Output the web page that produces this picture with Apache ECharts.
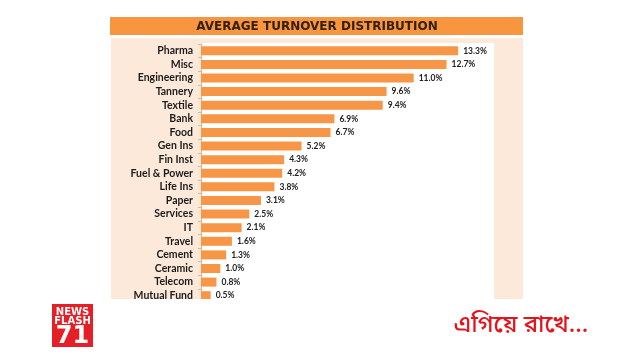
<!DOCTYPE html>
<html>
<head>
<meta charset="utf-8">
<script src="https://cdn.jsdelivr.net/npm/echarts@6/dist/echarts.min.js"></script>
<style>
html,body{margin:0;padding:0;background:#fff;}
#c{width:640px;height:360px;}
</style>
</head>
<body>
<div id="c"></div>
<script>
const titleText = 'AVERAGE TURNOVER DISTRIBUTION';
const categories = ['Pharma','Misc','Engineering','Tannery','Textile','Bank','Food','Gen Ins','Fin Inst','Fuel & Power','Life Ins','Paper','Services','IT','Travel','Cement','Ceramic','Telecom','Mutual Fund'];
const values = [13.3,12.7,11.0,9.6,9.4,6.9,6.7,5.2,4.3,4.2,3.8,3.1,2.5,2.1,1.6,1.3,1.0,0.8,0.5];
const tagline = 'এগিয়ে রাখে...';

const chart = echarts.init(document.getElementById('c'), null, {renderer:'canvas'});
chart.setOption({
  animation:false,
  backgroundColor:'#ffffff',
  grid:{left:201, right:149, top:44, bottom:57.5, containLabel:false},
  xAxis:{type:'value', min:0, max:15, show:false},
  yAxis:{
    type:'category', data:categories, inverse:true,
    axisLine:{show:true, lineStyle:{color:'#e2b48c', width:1}},
    axisTick:{show:true, length:3, lineStyle:{color:'#e2b48c'}},
    axisLabel:{interval:0, color:'#1c1c1c', fontFamily:'Lato', fontWeight:'bold', fontSize:10.5, margin:8}
  },
  series:[{
    type:'bar', data:values, barWidth:9,
    itemStyle:{color:'#f79646'},
    label:{show:true, position:'right', distance:5, color:'#222', fontFamily:'Lato', fontWeight:'bold', fontSize:8.5,
      formatter:p=>p.value.toFixed(1)+'%'}
  }],
  graphic:[
    {type:'rect', z:-10, shape:{x:111,y:38,width:412,height:261}, style:{fill:'#fde9d9'}},
    {type:'rect', z:-9, shape:{x:201,y:43,width:293,height:256}, style:{fill:'#ffffff'}},
    {type:'rect', z:-8, shape:{x:110,y:17,width:413,height:18}, style:{fill:'#f7963f'}},
    {type:'text', z:5, x:317, y:26.5, style:{text:titleText, fill:'#33200f', font:'bold 12px "DejaVu Sans"', textAlign:'center', textVerticalAlign:'middle'}},
    {type:'rect', z:100, shape:{x:100,y:299,width:440,height:14}, style:{fill:'#ffffff'}},
    {type:'rect', z:101, shape:{x:52,y:304,width:41,height:43}, style:{fill:'#e41f26'}},
    {type:'text', z:102, x:72.5, y:312, style:{text:'NEWS', fill:'#ffffff', font:'bold 10px "DejaVu Sans"', textAlign:'center', textVerticalAlign:'middle'}},
    {type:'text', z:102, x:72.5, y:321.5, style:{text:'FLASH', fill:'#ffffff', font:'bold 10px "DejaVu Sans"', textAlign:'center', textVerticalAlign:'middle'}},
    {type:'text', z:102, x:72.5, y:337, style:{text:'71', fill:'#ffffff', font:'bold 24px "DejaVu Sans"', textAlign:'center', textVerticalAlign:'middle'}},
    {type:'text', z:102, x:521, y:327, style:{text:tagline, fill:'#e3141c', font:'500 24px "Noto Sans Bengali", "Noto Serif Bengali", "Lohit Bengali", "Noto Sans", sans-serif', textAlign:'center', textVerticalAlign:'middle'}}
  ]
});
</script>
</body>
</html>
